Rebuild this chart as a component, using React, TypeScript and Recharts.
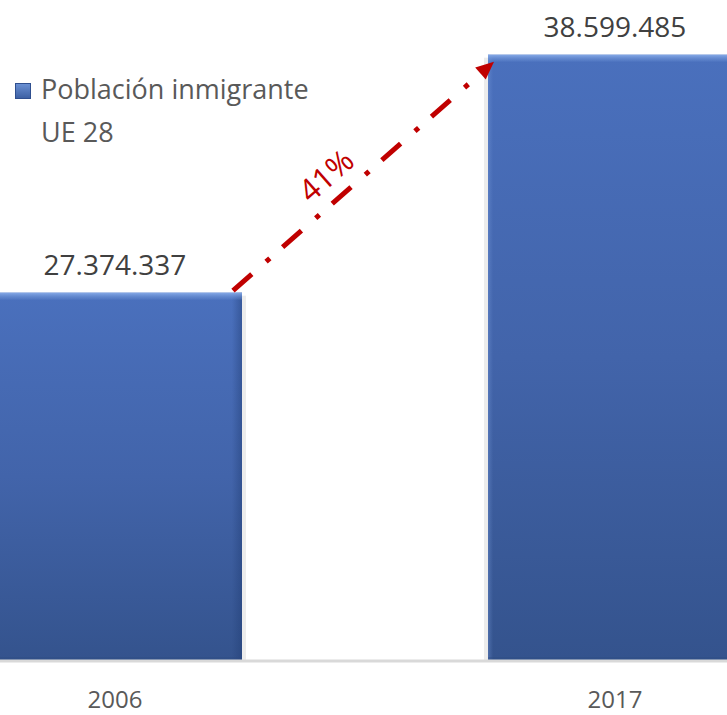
import React from 'react'
import { BarChart, Bar, XAxis, YAxis, Legend, LabelList } from 'recharts'

const years = ['2006', '2017']
const poblacion = [27374337, 38599485]
const yDomain = [10000000, 40000000]
const seriesName = 'Población inmigrante UE 28'
const growthLabel = '41%'

const data = years.map((year, i) => ({ year, poblacion: poblacion[i] }))

const FONT = '"Open Sans", "DejaVu Sans", sans-serif'
const RED = '#C00000'

const fmt = (v: number) => String(v).replace(/\B(?=(\d{3})+(?!\d))/g, '.')

// geometry of the bars, filled in while the shapes render
const rects: { x: number; y: number; width: number; height: number }[] = []

function GrowthArrow({ from, to }: { from: [number, number]; to: [number, number] }) {
  const dx = to[0] - from[0]
  const dy = to[1] - from[1]
  const len = Math.sqrt(dx * dx + dy * dy)
  const ux = dx / len
  const uy = dy / len
  const nx = uy
  const ny = -ux
  const head = 18
  const bx = to[0] - ux * head
  const by = to[1] - uy * head
  const t = 0.42
  const tx = from[0] + ux * len * t + nx * 26
  const ty = from[1] + uy * len * t + ny * 26
  const angle = (Math.atan2(dy, dx) * 180) / Math.PI
  return (
    <g>
      <line
        x1={from[0]}
        y1={from[1]}
        x2={bx}
        y2={by}
        stroke={RED}
        strokeWidth={5}
        strokeDasharray="25 19 5 17"
      />
      <polygon
        points={`${to[0]},${to[1]} ${bx + nx * 8},${by + ny * 8} ${bx - nx * 8},${by - ny * 8}`}
        fill={RED}
      />
      <text
        x={tx}
        y={ty}
        transform={`rotate(${angle} ${tx} ${ty})`}
        textAnchor="middle"
        dominantBaseline="central"
        fontFamily={FONT}
        fontSize={31}
        fill={RED}
      >
        {growthLabel}
      </text>
    </g>
  )
}

function BevelBar(props: any) {
  const { x, y, width, height, index } = props
  rects[index] = { x, y, width, height }
  const prev = index > 0 ? rects[index - 1] : undefined
  return (
    <g>
      <rect x={x - 4} y={y + 3} width={width + 8} height={height - 3} fill="#ececec" />
      <rect x={x} y={y} width={width} height={height} fill="url(#barGrad)" />
      <rect x={x} y={y} width={width} height={height} fill="url(#edgeGrad)" />
      <rect x={x} y={y} width={width} height={7} fill="url(#topGrad)" />
      <rect x={x} y={y + height - 4} width={width} height={4} fill="#2e4a80" opacity={0.35} />
      {prev && (
        <GrowthArrow
          from={[prev.x + prev.width - 9, prev.y - 2]}
          to={[x + 6, y + 7]}
        />
      )}
    </g>
  )
}

function ValueLabel(props: any) {
  const { x, y, width, value } = props
  return (
    <text
      x={x + width / 2}
      y={y - 18}
      textAnchor="middle"
      fontFamily={FONT}
      fontSize={28}
      fill="#404040"
    >
      {fmt(value)}
    </text>
  )
}

function YearTick(props: any) {
  const { x, y, payload } = props
  return (
    <text x={x} y={y + 47} textAnchor="middle" fontFamily={FONT} fontSize={24} fill="#595959">
      {payload.value}
    </text>
  )
}

function LegendContent(props: any) {
  const entries = props.payload || []
  return (
    <div>
      {entries.map((entry: any) => (
        <div key={entry.value} style={{ display: 'flex', alignItems: 'flex-start' }}>
          <span
            style={{
              display: 'inline-block',
              width: 16,
              height: 16,
              marginTop: 16,
              marginRight: 10,
              background: 'linear-gradient(#6d93d6, #3a5da0)',
              boxShadow: 'inset 0 0 0 1px #2f4f8f',
              flex: 'none',
            }}
          />
          <span
            style={{
              fontFamily: FONT,
              fontSize: 27,
              lineHeight: '43px',
              color: '#595959',
              width: 300,
            }}
          >
            {entry.value}
          </span>
        </div>
      ))}
    </div>
  )
}

export default function App() {
  return (
    <div
      style={{
        position: 'absolute',
        left: 0,
        top: 0,
        width: 727,
        height: 715,
        overflow: 'hidden',
        background: '#fff',
      }}
    >
      <BarChart
        width={1000}
        height={715}
        data={data}
        margin={{ top: 25, right: 0, bottom: 0, left: 0 }}
        barCategoryGap="24.6%"
        style={{ position: 'absolute', left: -135, top: 0 }}
      >
        <defs>
          <linearGradient id="barGrad" x1="0" y1="0" x2="0" y2="1">
            <stop offset="0%" stopColor="#4a70bd" />
            <stop offset="50%" stopColor="#4264aa" />
            <stop offset="100%" stopColor="#34538d" />
          </linearGradient>
          <linearGradient id="edgeGrad" x1="0" y1="0" x2="1" y2="0">
            <stop offset="0%" stopColor="#7a9ddc" stopOpacity={0.35} />
            <stop offset="2%" stopColor="#7a9ddc" stopOpacity={0} />
            <stop offset="96%" stopColor="#203c73" stopOpacity={0} />
            <stop offset="100%" stopColor="#203c73" stopOpacity={0.45} />
          </linearGradient>
          <linearGradient id="topGrad" x1="0" y1="0" x2="0" y2="1">
            <stop offset="0%" stopColor="#8cb0ec" stopOpacity={0.9} />
            <stop offset="100%" stopColor="#6b92d6" stopOpacity={0.2} />
          </linearGradient>
        </defs>
        <XAxis
          dataKey="year"
          height={54}
          axisLine={{ stroke: '#d9d9d9', strokeWidth: 3 }}
          tickLine={false}
          tickSize={0}
          tickMargin={0}
          tick={<YearTick />}
        />
        <YAxis hide domain={yDomain} />
        <Legend
          layout="horizontal"
          align="center"
          verticalAlign="middle"
          wrapperStyle={{ left: 150, top: 67, width: 340 }}
          content={<LegendContent />}
        />
        <Bar
          dataKey="poblacion"
          name={seriesName}
          fill="#4266ad"
          shape={(p: any) => <BevelBar {...p} />}
          isAnimationActive={false}
        >
          <LabelList dataKey="poblacion" content={<ValueLabel />} />
        </Bar>
      </BarChart>
    </div>
  )
}
